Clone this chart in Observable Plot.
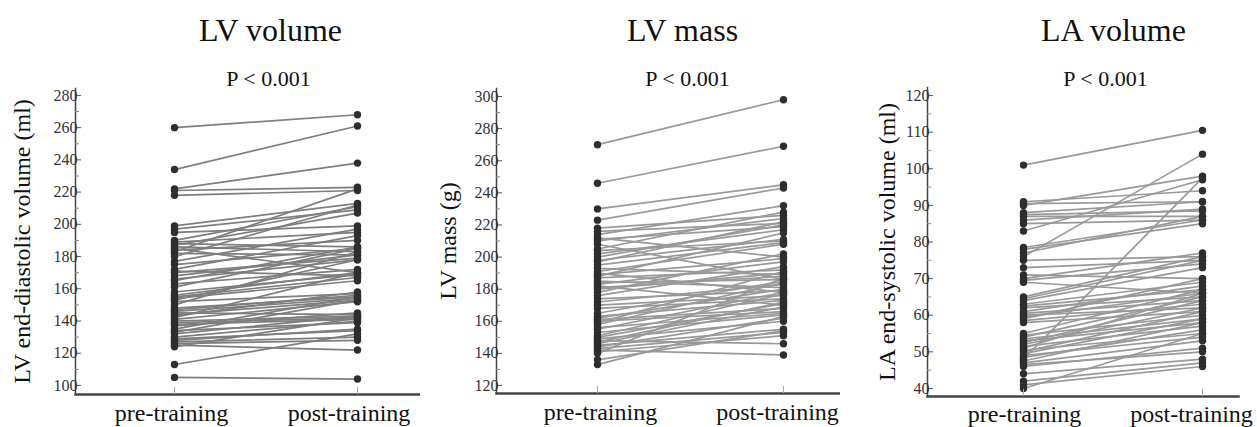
<!DOCTYPE html>
<html>
<head>
<meta charset="utf-8">
<script src="https://cdn.jsdelivr.net/npm/d3@7"></script>
<script src="https://cdn.jsdelivr.net/npm/@observablehq/plot@0.6"></script>
<style>
  html, body { margin: 0; padding: 0; background: #fff; }
  #wrap { display: flex; flex-direction: row; width: 1257px; height: 427px; overflow: hidden; }
  svg { font-family: "Liberation Serif", "Times New Roman", serif; overflow: visible; }
</style>
</head>
<body>
<div id="wrap"></div>
<script>
const phases = ["pre-training", "post-training"];

const titles = ["LV volume", "LV mass", "LA volume"];
const pLabels = ["P < 0.001", "P < 0.001", "P < 0.001"];
const yLabels = ["LV end-diastolic volume (ml)", "LV mass (g)", "LA end-systolic volume (ml)"];

const lvVolumePre = [260, 234, 222, 221, 218, 199, 197, 195, 190, 189, 188, 187, 186, 185, 184, 183, 182, 180, 177, 175, 172, 171, 170, 168, 166, 165, 163, 161, 158, 156, 155, 154, 153, 152, 150, 148, 147, 146, 145, 144, 143, 142, 141, 140, 139, 138, 137, 135, 134, 133, 132, 130, 129, 128, 127, 126, 125, 124, 113, 105];
const lvVolumePost = [268, 261, 238, 223, 221, 213, 209, 199, 211, 195, 186, 207, 183, 170, 190, 222, 181, 212, 197, 185, 193, 168, 179, 181, 178, 186, 172, 185, 169, 170, 167, 165, 178, 157, 183, 155, 156, 154, 144, 153, 158, 170, 152, 143, 142, 141, 145, 155, 139, 153, 143, 140, 134, 135, 130, 128, 122, 142, 132, 104];

const lvMassPre = [270, 246, 230, 223, 218, 216, 214, 212, 211, 210, 208, 205, 204, 202, 200, 198, 197, 195, 193, 191, 190, 189, 188, 187, 185, 184, 183, 182, 181, 180, 178, 176, 174, 172, 170, 168, 165, 163, 162, 161, 160, 159, 158, 156, 155, 153, 151, 150, 149, 148, 147, 146, 145, 144, 143, 142, 141, 140, 136, 133];
const lvMassPost = [298, 269, 245, 243, 226, 221, 232, 200, 219, 224, 186, 228, 210, 217, 220, 211, 222, 209, 189, 208, 178, 199, 215, 192, 181, 186, 197, 170, 188, 190, 202, 194, 179, 183, 176, 174, 185, 173, 180, 168, 166, 191, 184, 165, 178, 164, 177, 171, 160, 146, 172, 169, 155, 162, 153, 139, 151, 187, 154, 163];

const laVolumePre = [101, 91, 90.5, 90, 88, 87.5, 87, 86, 85, 83, 78.5, 78, 77, 76, 75, 73, 71, 70, 69.5, 69, 65, 64.5, 64, 63, 62.5, 62, 61, 60.5, 60, 59.5, 59, 58.5, 58, 55, 54.5, 54, 53.5, 53, 52.5, 52, 51.5, 51, 50.5, 50, 49.5, 49, 48.5, 48, 47.5, 47, 46.5, 46, 44, 42, 41, 40];
const laVolumePost = [110.5, 94, 91, 98, 91, 88.5, 87, 89, 86, 97, 86, 85, 87, 104, 76, 75, 70, 77, 74, 66, 76, 75, 73, 69, 67, 65, 68, 64, 62, 66, 70, 63, 61, 67, 60, 65, 59, 58, 64, 62, 57, 66, 55, 61, 59, 54, 56, 97.5, 58, 53, 50, 51, 48, 47, 46, 55];

const panels = [
  { pre: lvVolumePre, post: lvVolumePost, width: 420, marginLeft: 75, marginRight: 0, marginTop: 88, marginBottom: 33,
    yDomain: [94.4, 284.3], major: d3.range(100, 281, 20), minor: d3.range(110, 271, 20), xRange: [174, 357],
    titleX: 270, pX: 268, yLabelX: 22, lineColor: "#7e7e7e", preDx: -3, postDx: -8.5, labelPad: 9 },
  { pre: lvMassPre, post: lvMassPost, width: 420, marginLeft: 76, marginRight: 0, marginTop: 88, marginBottom: 34,
    yDomain: [115, 305], major: d3.range(120, 301, 20), minor: d3.range(130, 291, 20), xRange: [177, 363],
    titleX: 262, pX: 267, yLabelX: 28, lineColor: "#999999", preDx: 3, postDx: -6, labelPad: 9 },
  { pre: laVolumePre, post: laVolumePost, width: 417, marginLeft: 87, marginRight: 19, marginTop: 87, marginBottom: 31,
    yDomain: [37.8, 122.2], major: d3.range(40, 121, 10), minor: d3.range(45, 116, 10), xRange: [183, 362],
    titleX: 273, pX: 265, yLabelX: 47, lineColor: "#999999", preDx: 1, postDx: -11, labelPad: 8 }
];

const wrap = document.getElementById("wrap");

panels.forEach((p, k) => {
  const rows = p.pre.flatMap((v, i) => [
    { id: i, phase: phases[0], value: v },
    { id: i, phase: phases[1], value: p.post[i] }
  ]);
  const chart = Plot.plot({
    width: p.width,
    height: 427,
    marginLeft: p.marginLeft,
    marginRight: p.marginRight,
    marginTop: p.marginTop,
    marginBottom: p.marginBottom,
    style: { fontFamily: "'Liberation Serif', 'Times New Roman', serif", background: "#fff", color: "#222", overflow: "visible" },
    x: { type: "point", domain: phases, range: p.xRange, padding: 0 },
    y: { domain: p.yDomain },
    marks: [
      Plot.line(rows, { x: "phase", y: "value", z: "id", stroke: p.lineColor, strokeWidth: 1.7 }),
      Plot.dot(rows, { x: "phase", y: "value", r: 3.7, fill: "#2e2e2e", stroke: "none" }),
      Plot.frame({ anchor: "left", stroke: "#444", strokeWidth: 1.5 }),
      Plot.frame({ anchor: "bottom", stroke: "#444", strokeWidth: 2.5 }),
      Plot.axisY({ ticks: p.major, tickSize: -6, tickPadding: 4, fontSize: 16, label: null, stroke: "#555", color: "#333" }),
      Plot.axisY({ ticks: p.minor, tickSize: -4, tickFormat: () => "", label: null, stroke: "#888" }),
      Plot.axisX({ tickSize: -7, tickFormat: () => "", label: null, stroke: "#aaa" }),
      Plot.axisX([phases[0]], { tickSize: 0, tickPadding: p.labelPad, dx: p.preDx, fontSize: 24, label: null, color: "#111" }),
      Plot.axisX([phases[1]], { tickSize: 0, tickPadding: p.labelPad, dx: p.postDx, fontSize: 24, label: null, color: "#111" }),
      Plot.text([titles[k]], { frameAnchor: "top-left", dx: p.titleX - p.marginLeft, dy: 30 - p.marginTop, fontSize: 32, fill: "#111", textAnchor: "middle", lineAnchor: "middle" }),
      Plot.text([pLabels[k]], { frameAnchor: "top-left", dx: p.pX - p.marginLeft, dy: 78 - p.marginTop, fontSize: 22, fill: "#111", textAnchor: "middle", lineAnchor: "middle" }),
      Plot.text([yLabels[k]], { frameAnchor: "left", dx: p.yLabelX - p.marginLeft, rotate: -90, fontSize: 24, fill: "#111", textAnchor: "middle", lineAnchor: "middle" })
    ]
  });
  wrap.appendChild(chart);
});
</script>
</body>
</html>
